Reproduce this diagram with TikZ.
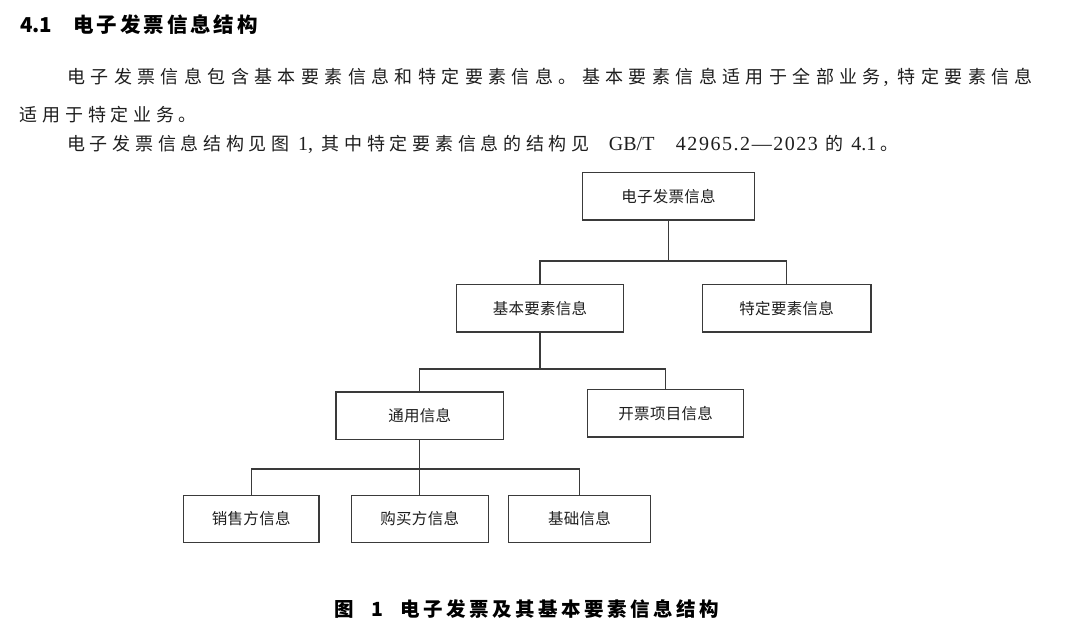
\documentclass[tikz,border=0pt]{standalone}
\usepackage{fontspec}
\setmainfont{Liberation Serif}
\newfontfamily\cjk{Noto Sans CJK SC}
\newlength\pch
\def\spc#1{\spcI#1\relax}
\def\spcI#1{\ifx\relax#1\else\makebox[\pch][c]{#1}\expandafter\spcI\fi}
\definecolor{ink}{HTML}{1E1E1E}
\definecolor{linec}{HTML}{3A3A3A}
\tikzset{
  txt/.style={inner sep=0pt, outer sep=0pt, anchor=west, text=ink},
  body/.style={txt, font=\fontsize{18}{18}\selectfont},
  headtxt/.style={txt, text=black, font=\cjk\bfseries\fontsize{20.5}{20.5}\selectfont},
  captxt/.style={txt, text=black, font=\cjk\bfseries\fontsize{19.5}{19.5}\selectfont},
  box/.style={draw=linec, line width=1.2pt, inner sep=0pt, text=ink,
    minimum height=47.5pt, font=\cjk\fontsize{15.5}{15.5}\selectfont},
  tree/.style={draw=linec, line width=1.2pt}
}
\begin{document}
\begin{tikzpicture}[x=1pt,y=-1pt]
\useasboundingbox[fill=white] (0,0) rectangle (1080,639);
% heading
\node[headtxt] (hnum) at (20.2,25) {4.1};
\node[headtxt] (htitle) at (72,25) {\setlength\pch{23.4pt}\spc{电子发票信息结构}};
% paragraph
\node[body] (l1) at (64.6,77.3) {\setlength\pch{23.4pt}\cjk\spc{电子发票信息包含基本要素信息和特定要素信息。基本要素信息适用于全部业务}\makebox[11.7pt][l]{\fontsize{20}{20}\selectfont\rmfamily ,}\spc{特定要素信息}};
\node[body] (l2) at (17.65,115) {\setlength\pch{22.7pt}\cjk\spc{适用于特定业务。}};
\node[body] (l3) at (64.95,144.5) {\setlength\pch{22.7pt}\cjk\spc{电子发票信息结构见图}\makebox[27.6pt][c]{\fontsize{20}{20}\selectfont\rmfamily 1,}\spc{其中特定要素信息的结构见}\makebox[231pt][l]{\fontsize{20}{20}\selectfont\rmfamily\hspace{17pt}\makebox[48pt][l]{GB/T}\hspace{19pt}\makebox[142pt][s]{4\hfil2\hfil9\hfil6\hfil5\hfil.\hfil2\hfil—\hfil2\hfil0\hfil2\hfil3}}\spc{的}\makebox[33pt][l]{\fontsize{20}{20}\selectfont\rmfamily\hspace{5.7pt}4.1}\spc{。}};
% diagram boxes
\node[box, minimum width=171.6pt] (root) at (668.5,196.3) {\setlength\pch{15.8pt}\spc{电子发票信息}};
\node[box, minimum width=166.6pt] (basic) at (540,308.2) {\setlength\pch{15.8pt}\spc{基本要素信息}};
\node[box, minimum width=168.7pt] (spec) at (786.7,308.2) {\setlength\pch{15.8pt}\spc{特定要素信息}};
\node[box, minimum width=167.3pt] (tong) at (419.7,415.8) {\setlength\pch{15.8pt}\spc{通用信息}};
\node[box, minimum width=156pt] (kai) at (665.7,413.2) {\setlength\pch{15.8pt}\spc{开票项目信息}};
\node[box, minimum width=135.7pt] (sell) at (251.2,519) {\setlength\pch{15.8pt}\spc{销售方信息}};
\node[box, minimum width=137pt] (buy) at (419.7,519) {\setlength\pch{15.8pt}\spc{购买方信息}};
\node[box, minimum width=141.6pt] (base) at (579.5,519) {\setlength\pch{15.8pt}\spc{基础信息}};
% connectors
\coordinate (j1) at (668.5,261);
\coordinate (j2) at (540,369);
\coordinate (j3) at (419.7,469);
\draw[tree] (root.south) -- (j1);
\draw[tree] (basic.north) |- (j1) -| (spec.north);
\draw[tree] (basic.south) -- (j2);
\draw[tree] (tong.north) |- (j2) -| (kai.north);
\draw[tree] (tong.south) -- (j3);
\draw[tree] (sell.north) |- (j3) -| (base.north);
\draw[tree] (j3) -- (buy.north);
% caption
\node[captxt] (caption) at (332.5,608.8) {\setlength\pch{23pt}\spc{图}\makebox[43.7pt][l]{\hspace{16.2pt}1}\spc{电子发票及其基本要素信息结构}};
\end{tikzpicture}
\end{document}
